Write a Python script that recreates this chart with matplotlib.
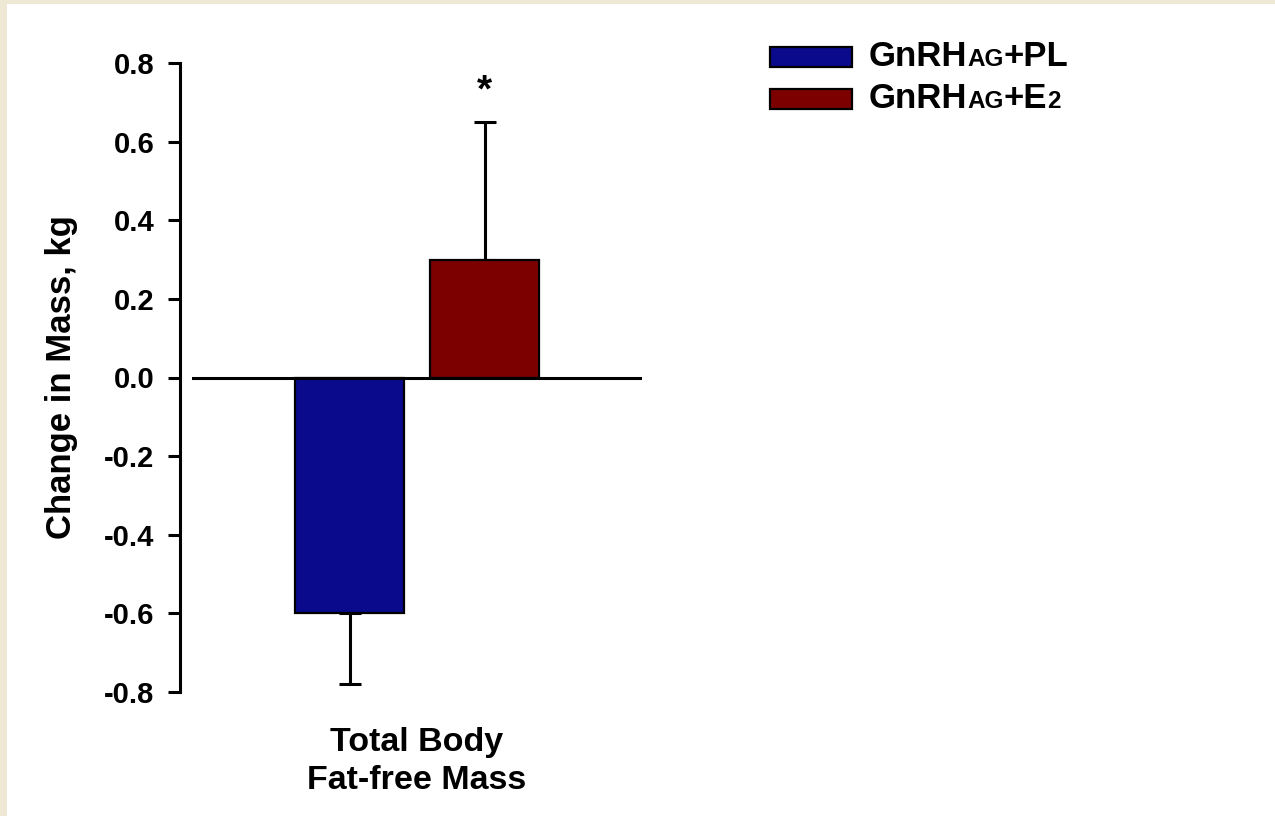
import matplotlib
matplotlib.use("Agg")
import matplotlib.pyplot as plt
from matplotlib.patches import Rectangle
from matplotlib.offsetbox import TextArea, HPacker, AnnotationBbox

# ---- data ----
category = "Total Body\nFat-free Mass"
group_colors = ["#0a0a8c", "#7c0000"]
means = [-0.60, 0.30]
sems = [0.18, 0.35]
significant = [False, True]
legend_parts = [
    [("GnRH", "big"), ("AG", "small"), ("+PL", "big")],
    [("GnRH", "big"), ("AG", "small"), ("+E", "big"), ("2", "small")],
]
yticks = [-0.8, -0.6, -0.4, -0.2, 0.0, 0.2, 0.4, 0.6, 0.8]

FONT = ["Liberation Sans", "DejaVu Sans"]
plt.rcParams["font.family"] = FONT
plt.rcParams["font.weight"] = "bold"

W, H = 1275, 816
fig = plt.figure(figsize=(W / 100, H / 100), dpi=100)
fig.patch.set_facecolor("#eee8d5")
fig.patches.append(Rectangle((7 / W, 0), 1 - 7 / W, 1 - 4 / H,
                             transform=fig.transFigure, facecolor="white",
                             edgecolor="none", zorder=-5))

ax = fig.add_axes([192 / W, 1 - 692 / H, 450 / W, (692 - 63) / H])
ax.set_facecolor("none")
ax.set_zorder(2)

offsets = [-0.15, 0.15]
bar_w = 0.242
lw = 2.2
for off, m, s, c, sig in zip(offsets, means, sems, group_colors, significant):
    ax.bar(off, m, width=bar_w, color=c, edgecolor="black", linewidth=1.6, zorder=2)
    lower = [s] if m < 0 else [0]
    upper = [s] if m > 0 else [0]
    ax.errorbar(off, m, yerr=[lower, upper], fmt="none", ecolor="black",
                elinewidth=lw, capsize=8, capthick=lw, zorder=1)
    if sig:
        ax.annotate("*", xy=(off, m + s), xytext=(0, 15), textcoords="offset points",
                    ha="center", va="baseline", fontsize=28, fontweight="bold",
                    annotation_clip=False)

ax.axhline(0, color="black", linewidth=lw, zorder=3)

ax.set_xlim(-0.5, 0.5)
ax.set_ylim(-0.8, 0.8)
ax.set_yticks(yticks)
ax.set_yticklabels([f"{v:.1f}" for v in yticks])
ax.set_xticks([0])
ax.set_xticklabels([category])

for side in ("top", "right", "bottom"):
    ax.spines[side].set_visible(False)
ax.spines["left"].set_position(("outward", 8.6))
ax.spines["left"].set_linewidth(lw)
ax.tick_params(axis="y", direction="out", length=8.6, width=lw, pad=10,
               labelsize=21)
ax.tick_params(axis="x", length=0, pad=25, labelsize=24.5)
for t in ax.get_xticklabels():
    t.set_linespacing(1.3)

fig.text(62 / W, 1 - 377 / H, "Change in Mass, kg", rotation=90,
         ha="center", va="center", fontsize=25, fontweight="bold")

# ---- legend ----
sizes = {"big": 25, "small": 17.5}
rows_y = [57, 99]
for parts, c, yc in zip(legend_parts, group_colors, rows_y):
    fig.patches.append(Rectangle((770 / W, 1 - (yc + 10) / H), 82 / W, 20 / H,
                                 transform=fig.transFigure, facecolor=c,
                                 edgecolor="black", linewidth=1.6, zorder=3))
    areas = [TextArea(txt, textprops=dict(fontsize=sizes[kind], fontweight="bold",
                                          family=FONT))
             for txt, kind in parts]
    box = HPacker(children=areas, align="baseline", pad=0, sep=0)
    ab = AnnotationBbox(box, (869 / W, 1 - yc / H), xycoords="figure fraction",
                        box_alignment=(0, 0.5), frameon=False, pad=0)
    fig.add_artist(ab)

fig.savefig("out.png", dpi=100, facecolor=fig.get_facecolor())
